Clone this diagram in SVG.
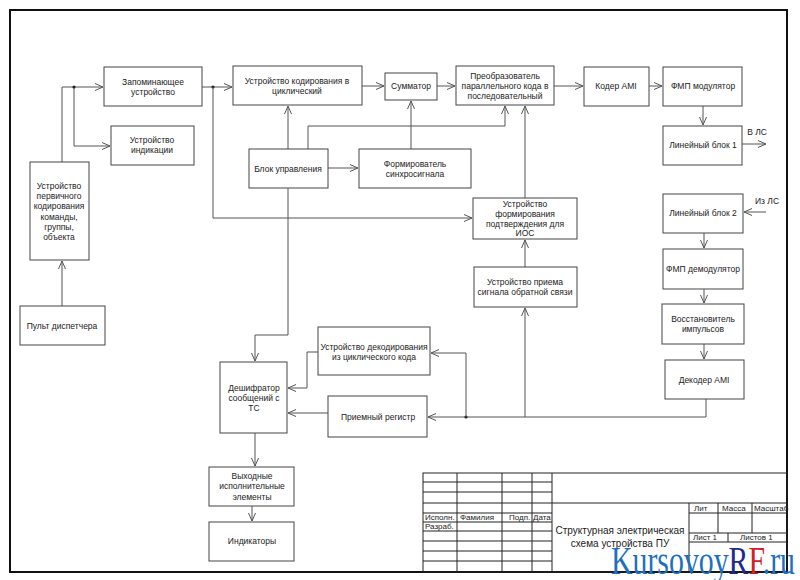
<svg xmlns="http://www.w3.org/2000/svg" width="800" height="580" viewBox="0 0 800 580">
<defs>
<marker id="arr" markerUnits="userSpaceOnUse" markerWidth="9" markerHeight="9" refX="8" refY="4" orient="auto">
<path d="M0,0.5 L8,4 L0,7.5" fill="none" stroke="#555" stroke-width="1"/>
</marker>
<style>
.b{fill:#fff;stroke:#444;stroke-width:1}
.t{font-family:"Liberation Sans",Arial,sans-serif;font-size:8.5px;fill:#222;text-anchor:middle}
.c{fill:none;stroke:#555;stroke-width:1}
.a{marker-end:url(#arr)}
.tb{fill:none;stroke:#222;stroke-width:1}
.tt{font-family:"Liberation Sans",Arial,sans-serif;font-size:8px;fill:#222}
.ttc{font-family:"Liberation Sans",Arial,sans-serif;font-size:10px;fill:#222;text-anchor:middle}
</style>
</defs>
<rect width="800" height="580" fill="#fff"/>
<rect x="10" y="10" width="777" height="562" fill="none" stroke="#111" stroke-width="2"/>

<g id="connectors">
<path class="c a" d="M62,306 V261"/>
<path class="c a" d="M62,162 V87 H103"/>
<path class="c a" d="M74,87 V146 H110"/>
<circle cx="74" cy="87" r="1.6" fill="#222"/>
<path class="c a" d="M202,87 H232"/>
<circle cx="213" cy="87" r="1.6" fill="#222"/>
<path class="c a" d="M213,87 V218 H472"/>
<path class="c a" d="M362,86 H384"/>
<path class="c a" d="M437,86 H455"/>
<path class="c a" d="M554,86 H583"/>
<path class="c a" d="M649,86 H662"/>
<path class="c a" d="M703,106 V125"/>
<path class="c a" d="M742,144 H766"/>
<path class="c a" d="M288,149 V106"/>
<path class="c a" d="M308,149 V126 H505 V106"/>
<path class="c a" d="M328,168 H358"/>
<path class="c a" d="M411,149 V101"/>
<path class="c a" d="M525,198 V106"/>
<path class="c a" d="M525,267 V240"/>
<path class="c a" d="M525,417 V308"/>
<path class="c a" d="M288,188 V335 H255 V361"/>
<path class="c a" d="M766,212 H744"/>
<path class="c a" d="M704,233 V248"/>
<path class="c a" d="M704,289 V303"/>
<path class="c a" d="M704,344 V359"/>
<path class="c a" d="M706,399 V417 H428"/>
<circle cx="466" cy="417" r="1.6" fill="#222"/>
<path class="c a" d="M466,417 V353 H431"/>
<path class="c a" d="M318,352 H307 V388 H288"/>
<path class="c a" d="M328,413 H288"/>
<path class="c a" d="M255,433 V466"/>
<path class="c a" d="M252,506 V521"/>
</g>

<g id="n_zap"><rect class="b" x="104" y="67" width="98" height="39"/><text class="t" x="153" y="85">Запоминающее</text><text class="t" x="153" y="95">устройство</text></g>
<g id="n_ind"><rect class="b" x="111" y="126" width="83" height="39"/><text class="t" x="152" y="143">Устройство</text><text class="t" x="152" y="153">индикации</text></g>
<g id="n_perv"><rect class="b" x="30" y="162" width="59" height="98"/>
<text class="t" x="59" y="189">Устройство</text><text class="t" x="59" y="199">первичного</text><text class="t" x="59" y="209">кодирования</text><text class="t" x="59" y="220">команды,</text><text class="t" x="59" y="230">группы,</text><text class="t" x="59" y="240">объекта</text></g>
<g id="n_pult"><rect class="b" x="20" y="306" width="85" height="39"/><text class="t" x="62" y="329">Пульт диспетчера</text></g>
<g id="n_kod"><rect class="b" x="233" y="66" width="129" height="39"/><text class="t" x="297" y="84">Устройство кодирования в</text><text class="t" x="297" y="94">циклический</text></g>
<g id="n_sum"><rect class="b" x="385" y="73" width="52" height="27"/><text class="t" x="411" y="89">Сумматор</text></g>
<g id="n_preob"><rect class="b" x="456" y="66" width="98" height="39"/><text class="t" x="505" y="79">Преобразователь</text><text class="t" x="505" y="89">параллельного кода в</text><text class="t" x="505" y="99">последовательный</text></g>
<g id="n_koder"><rect class="b" x="584" y="67" width="65" height="39"/><text class="t" x="616" y="89">Кодер AMI</text></g>
<g id="n_fmpm"><rect class="b" x="663" y="67" width="79" height="39"/><text class="t" x="703" y="89">ФМП модулятор</text></g>
<g id="n_lin1"><rect class="b" x="663" y="126" width="79" height="39"/><text class="t" x="703" y="148">Линейный блок 1</text></g>
<text class="t" x="757" y="135">В ЛС</text>
<g id="n_blok"><rect class="b" x="249" y="149" width="79" height="39"/><text class="t" x="288" y="172">Блок управления</text></g>
<g id="n_form"><rect class="b" x="359" y="149" width="112" height="39"/><text class="t" x="415" y="167">Формирователь</text><text class="t" x="415" y="177">синхросигнала</text></g>
<g id="n_podt"><rect class="b" x="473" y="198" width="104" height="41"/><text class="t" x="525" y="207">Устройство</text><text class="t" x="525" y="217">формирования</text><text class="t" x="525" y="227">подтверждения для</text><text class="t" x="525" y="236">ИОС</text></g>
<g id="n_priem"><rect class="b" x="474" y="267" width="103" height="40"/><text class="t" x="525" y="285">Устройство приема</text><text class="t" x="525" y="295">сигнала обратной связи</text></g>
<g id="n_lin2"><rect class="b" x="663" y="194" width="80" height="39"/><text class="t" x="703" y="216">Линейный блок 2</text></g>
<text class="t" x="767" y="204">Из ЛС</text>
<g id="n_fmpd"><rect class="b" x="663" y="249" width="80" height="40"/><text class="t" x="703" y="272">ФМП демодулятор</text></g>
<g id="n_vosst"><rect class="b" x="662" y="304" width="82" height="40"/><text class="t" x="703" y="322">Восстановитель</text><text class="t" x="703" y="332">импульсов</text></g>
<g id="n_dekoder"><rect class="b" x="665" y="360" width="79" height="39"/><text class="t" x="704" y="383">Декодер AMI</text></g>
<g id="n_dekod"><rect class="b" x="318" y="327" width="112" height="48"/><text class="t" x="374" y="350">Устройство декодирования</text><text class="t" x="374" y="360">из циклического кода</text></g>
<g id="n_desh"><rect class="b" x="220" y="362" width="67" height="71"/><text class="t" x="254" y="391">Дешифратор</text><text class="t" x="254" y="401">сообщений с</text><text class="t" x="254" y="411">ТС</text></g>
<g id="n_reg"><rect class="b" x="328" y="396" width="99" height="41"/><text class="t" x="378" y="420">Приемный регистр</text></g>
<g id="n_vyh"><rect class="b" x="209" y="467" width="85" height="39"/><text class="t" x="252" y="479">Выходные</text><text class="t" x="252" y="489">исполнительные</text><text class="t" x="252" y="500">элементы</text></g>
<g id="n_indik"><rect class="b" x="209" y="522" width="85" height="39"/><text class="t" x="252" y="544">Индикаторы</text></g>

<g id="titleblock">
<rect class="tb" x="423" y="473" width="364" height="99"/>
<path class="tb" d="M423,482 H552 M423,492 H552 M423,503 H787 M423,513 H552 M423,522 H552 M423,531 H552 M423,541 H552 M423,551 H552 M423,561 H552"/>
<path class="tb" d="M457,473 V572 M502,473 V572 M532,473 V572 M552,473 V572"/>
<path class="tb" d="M689,503 V572 M689,513 H787 M689,533 H787 M689,542 H787 M718,503 V533 M752,503 V533 M728,533 V542"/>
<text class="tt" x="425" y="520">Исполн.</text>
<text class="tt" x="460" y="520">Фамилия</text>
<text class="tt" x="509" y="520">Подп.</text>
<text class="tt" x="533" y="520">Дата</text>
<text class="tt" x="425" y="529">Разраб.</text>
<text class="ttc" x="620" y="534">Структурная электрическая</text>
<text class="ttc" x="620" y="547">схема устройства ПУ</text>
<text class="tt" x="694" y="511">Лит</text>
<text class="tt" x="722" y="511">Масса</text>
<text class="tt" x="754" y="511">Масштаб</text>
<text class="tt" x="693" y="540">Лист  1</text>
<text class="tt" x="740" y="540">Листов  1</text>
</g>
<text x="611" y="574" font-family="'Liberation Serif','Times New Roman',serif" font-size="40" textLength="184" lengthAdjust="spacingAndGlyphs" fill="#1f6fbf">Kursovoy<tspan fill="#1e2a8e">R</tspan><tspan fill="#d42027">F</tspan>.ru</text>
</svg>
